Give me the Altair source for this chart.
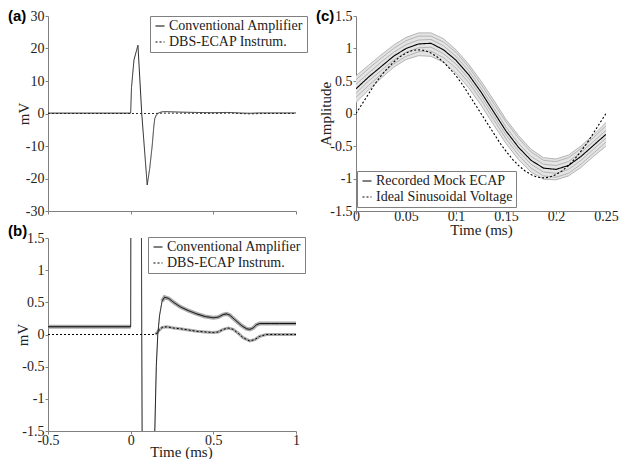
import altair as alt
import pandas as pd

# ---------------- Panels (a) and (b): same recordings, different zoom ----------------
conv_t = [-0.5, 0.0, 0.005, 0.02, 0.044, 0.067, 0.1, 0.115, 0.13, 0.14, 0.146, 0.155,
          0.164, 0.175, 0.19, 0.205, 0.23, 0.26, 0.3, 0.35, 0.4, 0.45, 0.5, 0.53, 0.56,
          0.58, 0.6, 0.63, 0.67, 0.7, 0.72, 0.74, 0.76, 0.78, 0.85, 0.9, 1.0]
conv_v = [0.12, 0.12, 8.0, 16.5, 21.0, 0.0, -22.0, -17.0, -10.0, -4.0, -1.5, -0.5,
          0.0, 0.3, 0.52, 0.58, 0.56, 0.5, 0.43, 0.37, 0.32, 0.28, 0.26, 0.27, 0.31,
          0.32, 0.3, 0.23, 0.14, 0.09, 0.08, 0.1, 0.15, 0.17, 0.17, 0.17, 0.17]
dbs_t = [-0.5, 0.15, 0.17, 0.19, 0.22, 0.26, 0.3, 0.35, 0.4, 0.45, 0.5, 0.53, 0.56,
         0.59, 0.62, 0.65, 0.68, 0.72, 0.75, 0.78, 0.82, 0.9, 1.0]
dbs_v = [0.0, 0.0, 0.06, 0.11, 0.12, 0.1, 0.09, 0.07, 0.05, 0.04, 0.03, 0.04, 0.08,
         0.1, 0.08, 0.02, -0.05, -0.1, -0.08, -0.03, 0.0, 0.0, 0.0]
series_ab = ["Conventional Amplifier", "DBS-ECAP Instrum."]
ticks_x_ab = [-0.5, 0, 0.5, 1]
ticks_y_a = [-30, -20, -10, 0, 10, 20, 30]
ticks_y_b = [-1.5, -1, -0.5, 0, 0.5, 1, 1.5]

# ---------------- Panel (c) ----------------
c_t = [0.0, 0.0125, 0.025, 0.0375, 0.05, 0.0625, 0.075, 0.0875, 0.1, 0.1125, 0.125,
       0.1375, 0.15, 0.1625, 0.175, 0.1875, 0.2, 0.2125, 0.225, 0.2375, 0.25]
mean_v = [0.38, 0.56, 0.72, 0.88, 1.00, 1.07, 1.08, 0.98, 0.82, 0.60, 0.33, 0.03,
          -0.27, -0.52, -0.72, -0.84, -0.86, -0.80, -0.66, -0.49, -0.32]
upper_v = [0.58, 0.74, 0.90, 1.05, 1.17, 1.24, 1.24, 1.15, 0.98, 0.76, 0.50, 0.21,
           -0.09, -0.34, -0.55, -0.68, -0.70, -0.64, -0.50, -0.33, -0.14]
lower_v = [0.17, 0.36, 0.54, 0.71, 0.83, 0.89, 0.88, 0.79, 0.62, 0.40, 0.13, -0.17,
           -0.46, -0.71, -0.90, -1.01, -1.02, -0.96, -0.83, -0.66, -0.50]
trace1_v = [0.52, 0.69, 0.85, 1.00, 1.12, 1.19, 1.19, 1.10, 0.94, 0.72, 0.45, 0.16,
            -0.13, -0.38, -0.59, -0.72, -0.74, -0.68, -0.54, -0.37, -0.19]
trace2_v = [0.45, 0.62, 0.79, 0.94, 1.06, 1.13, 1.14, 1.04, 0.88, 0.66, 0.39, 0.09,
            -0.21, -0.46, -0.66, -0.78, -0.80, -0.74, -0.60, -0.43, -0.26]
trace3_v = [0.31, 0.50, 0.66, 0.82, 0.94, 1.01, 1.02, 0.92, 0.76, 0.54, 0.27, -0.03,
            -0.33, -0.58, -0.78, -0.90, -0.92, -0.86, -0.72, -0.55, -0.38]
trace4_v = [0.25, 0.43, 0.60, 0.76, 0.88, 0.95, 0.96, 0.86, 0.70, 0.48, 0.21, -0.09,
            -0.39, -0.64, -0.84, -0.96, -0.98, -0.92, -0.78, -0.61, -0.44]
ideal_t = [0.0, 0.00625, 0.0125, 0.01875, 0.025, 0.03125, 0.0375, 0.04375, 0.05, 0.05625,
           0.0625, 0.06875, 0.075, 0.08125, 0.0875, 0.09375, 0.1, 0.10625, 0.1125, 0.11875,
           0.125, 0.13125, 0.1375, 0.14375, 0.15, 0.15625, 0.1625, 0.16875, 0.175, 0.18125,
           0.1875, 0.19375, 0.2, 0.20625, 0.2125, 0.21875, 0.225, 0.23125, 0.2375, 0.24375, 0.25]
ideal_v = [0.00, 0.15, 0.30, 0.45, 0.58, 0.69, 0.79, 0.87, 0.93, 0.97, 0.98, 0.97, 0.93,
           0.87, 0.79, 0.69, 0.58, 0.45, 0.30, 0.15, 0.00, -0.15, -0.30, -0.45, -0.58,
           -0.70, -0.80, -0.88, -0.94, -0.98, -0.99, -0.98, -0.94, -0.88, -0.80, -0.70,
           -0.58, -0.45, -0.30, -0.15, 0.00]
series_c = ["Recorded Mock ECAP", "Ideal Sinusoidal Voltage"]
ticks_x_c = [0, 0.05, 0.1, 0.15, 0.2, 0.25]
ticks_y_c = [-1.5, -1, -0.5, 0, 0.5, 1, 1.5]

panel_labels = ["(a)", "(b)", "(c)"]

SERIF = "Liberation Serif"
AX = dict(domainColor="#808080", tickColor="#808080", tickSize=3, grid=False,
          labelFont=SERIF, labelFontSize=14, labelColor="#222", labelFlush=False,
          labelExpr="'' + datum.value", labelOverlap=False,
          titleFont=SERIF, titleFontSize=15, titleFontWeight="normal", titleColor="#222")


def legend(x, y):
    return alt.Legend(orient="none", legendX=x, legendY=y, title=None,
                      fillColor="white", strokeColor="#808080", padding=3,
                      symbolType="stroke", symbolStrokeColor="black", symbolStrokeWidth=1.2,
                      symbolSize=81, labelFont=SERIF, labelFontSize=14, labelColor="#222",
                      labelOffset=2, rowPadding=2, labelLimit=300)


def panel_label(i, y):
    return alt.Chart(pd.DataFrame({"lab": [panel_labels[i]]})).mark_text(
        align="left", baseline="middle", font="Liberation Sans", fontWeight="bold",
        fontSize=15, color="black", clip=False
    ).encode(x=alt.value(-40), y=alt.value(y), text="lab:N")


df_conv = pd.DataFrame({"t": conv_t, "v": conv_v, "s": series_ab[0]})
df_dbs = pd.DataFrame({"t": dbs_t, "v": dbs_v, "s": series_ab[1]})
df_ab = pd.concat([df_conv, df_dbs], ignore_index=True)

# gray bands (overlaid repeated recordings) for panel (b)
band_rows = []
for t, v in zip(conv_t, conv_v):
    if t <= 0:
        band_rows.append({"t": t, "v": v, "seg": "c1", "w": "wide"})
    elif t >= 0.19:
        band_rows.append({"t": t, "v": v, "seg": "c2", "w": "wide"})
for t, v in zip(dbs_t, dbs_v):
    if t >= 0.15:
        band_rows.append({"t": t, "v": v, "seg": "d1", "w": "thin"})
df_band = pd.DataFrame(band_rows)

# ---- panel (a)
xa = alt.X("t:Q", scale=alt.Scale(domain=[-0.5, 1], nice=False, zero=False),
           axis=alt.Axis(values=ticks_x_ab, labels=False, title=None, **AX))
ya = alt.Y("v:Q", scale=alt.Scale(domain=[-30, 30], nice=False, zero=False),
           axis=alt.Axis(values=ticks_y_a, title="mV", titleX=-25, titleY=97.5,
                         titleBaseline="middle", labelPadding=1, **AX))
lines_a = alt.Chart(df_ab).mark_line(strokeWidth=1, color="#2a2a2a", clip=True).encode(
    x=xa, y=ya,
    strokeDash=alt.StrokeDash("s:N", scale=alt.Scale(domain=series_ab, range=[[1, 0], [2, 2]]),
                              legend=legend(102, 0)))
pa = alt.layer(lines_a, panel_label(0, -0.5)).properties(width=248, height=195)

# ---- panel (b)
xb = alt.X("t:Q", scale=alt.Scale(domain=[-0.5, 1], nice=False, zero=False),
           axis=alt.Axis(values=ticks_x_ab, title="Time (ms)", titleX=133, titleY=13,
                         labelPadding=-1, **AX))
yb = alt.Y("v:Q", scale=alt.Scale(domain=[-1.5, 1.5], nice=False, zero=False),
           axis=alt.Axis(values=ticks_y_b, title="mV", titleX=-26, titleY=96.5,
                         titleBaseline="middle", labelPadding=1, **AX))
band_b = alt.Chart(df_band).mark_line(color="#9a9a9a", opacity=0.85, clip=True).encode(
    x=xb, y=yb, detail="seg:N",
    strokeWidth=alt.StrokeWidth("w:N", scale=alt.Scale(domain=["wide", "thin"], range=[4, 3]),
                                legend=None))
lines_b = alt.Chart(df_ab).mark_line(strokeWidth=1, color="black", clip=True).encode(
    x=xb, y=yb,
    strokeDash=alt.StrokeDash("s:N", scale=alt.Scale(domain=series_ab, range=[[1, 0], [2, 2]]),
                              legend=legend(100, -1)))
pb = alt.layer(band_b, lines_b, panel_label(1, -7)).properties(width=248, height=193)

# ---- panel (c)
trace_rows = []
for name, vals in [("u", upper_v), ("l", lower_v), ("t1", trace1_v), ("t2", trace2_v),
                   ("t3", trace3_v), ("t4", trace4_v)]:
    for t, v in zip(c_t, vals):
        trace_rows.append({"t": t, "v": v, "tr": name})
df_traces = pd.DataFrame(trace_rows)
df_env = pd.DataFrame({"t": c_t, "lo": lower_v, "hi": upper_v})
df_c = pd.concat([
    pd.DataFrame({"t": c_t, "v": mean_v, "s": series_c[0]}),
    pd.DataFrame({"t": ideal_t, "v": ideal_v, "s": series_c[1]}),
], ignore_index=True)

yc_axis = alt.Axis(values=ticks_y_c, title="Amplitude", titleX=-31, titleY=97.5,
                   titleBaseline="middle", labelPadding=1, **AX)
xc = alt.X("t:Q", scale=alt.Scale(domain=[0, 0.25], nice=False, zero=False),
           axis=alt.Axis(values=ticks_x_c, title="Time (ms)", titleY=11, labelPadding=-5,
                         **AX))
yc = alt.Y("v:Q", scale=alt.Scale(domain=[-1.5, 1.5], nice=False, zero=False), axis=yc_axis)
env_c = alt.Chart(df_env).mark_area(color="#e4e4e4", clip=True).encode(
    x=xc, y=alt.Y("lo:Q", scale=alt.Scale(domain=[-1.5, 1.5], nice=False, zero=False),
                  axis=yc_axis),
    y2="hi:Q")
traces_c = alt.Chart(df_traces).mark_line(color="#b4b4b4", strokeWidth=1, clip=True).encode(
    x=xc, y=yc, detail="tr:N")
lines_c = alt.Chart(df_c).mark_line(strokeWidth=1.1, color="black", clip=True).encode(
    x=xc, y=yc,
    strokeDash=alt.StrokeDash("s:N", scale=alt.Scale(domain=series_c, range=[[1, 0], [2, 2]]),
                              legend=legend(1, 155)))
pc = alt.layer(env_c, traces_c, lines_c, panel_label(2, -0.5)).properties(width=250, height=195)

chart = alt.concat(pa, pc, pb, columns=2, spacing={"row": 27, "column": 60}, bounds="flush")
chart = chart.resolve_scale(x="independent", y="independent", strokeDash="independent",
                            strokeWidth="independent")
chart = chart.resolve_legend(strokeDash="independent")
chart = chart.properties(padding=0).configure_view(stroke=None).configure_axis(
    labelFont=SERIF, titleFont=SERIF).configure_legend(labelFont=SERIF)

chart.save("out.html", embed_options={"renderer": "svg", "actions": False})
